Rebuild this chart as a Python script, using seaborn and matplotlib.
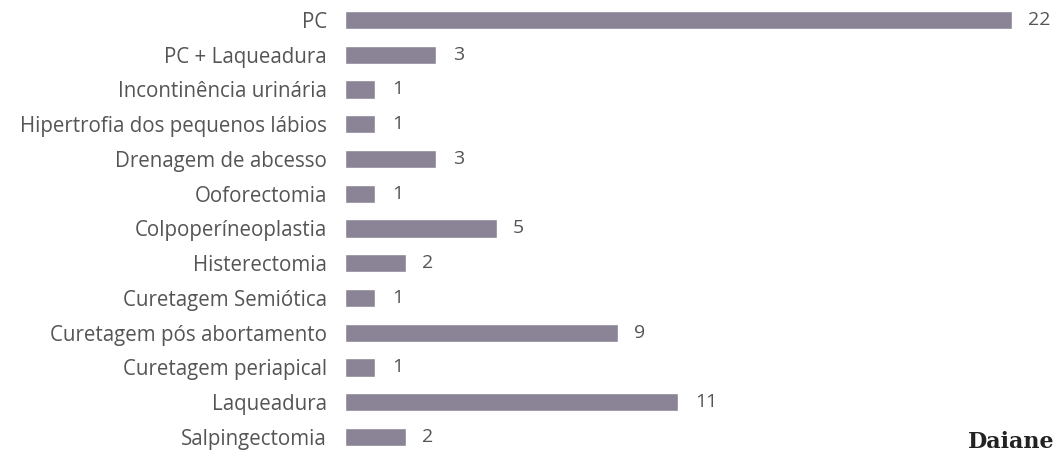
import matplotlib
matplotlib.use("Agg")
import matplotlib.pyplot as plt
import seaborn as sns
import pandas as pd

procedimentos = [
    "PC",
    "PC + Laqueadura",
    "Incontinência urinária",
    "Hipertrofia dos pequenos lábios",
    "Drenagem de abcesso",
    "Ooforectomia",
    "Colpoperíneoplastia",
    "Histerectomia",
    "Curetagem Semiótica",
    "Curetagem pós abortamento",
    "Curetagem periapical",
    "Laqueadura",
    "Salpingectomia",
]
quantidade = [22, 3, 1, 1, 3, 1, 5, 2, 1, 9, 1, 11, 2]

df = pd.DataFrame({"proc": procedimentos, "n": quantidade})

sns.set_style("white")
plt.rcParams["font.family"] = ["Open Sans", "DejaVu Sans"]

fig = plt.figure(figsize=(10.6, 4.54), dpi=100)
ax = fig.add_axes([0.3255, 0.0, 0.6745, 1.0])

sns.barplot(data=df, x="n", y="proc", orient="h", color="#8a8496",
            width=0.52, saturation=1, ax=ax)

ax.set_xlim(0, 23.6)
ax.set_ylim(12.49, -0.575)
ax.set_xlabel("")
ax.set_ylabel("")
ax.set_xticks([])
ax.tick_params(axis="y", length=0, pad=13, labelsize=14.8, labelcolor="#555555")
sns.despine(ax=ax, left=True, bottom=True)

for i, v in enumerate(quantidade):
    ax.annotate(str(v), (v, i), xytext=(12, 0), textcoords="offset points",
                va="center", ha="left", fontsize=14, color="#555555")

fig.text(0.995, 0.003, "Daiane", fontsize=16, fontweight="bold", color="#222222",
         family=["DejaVu Serif"], va="bottom", ha="right")

fig.savefig("out.png", dpi=100)
